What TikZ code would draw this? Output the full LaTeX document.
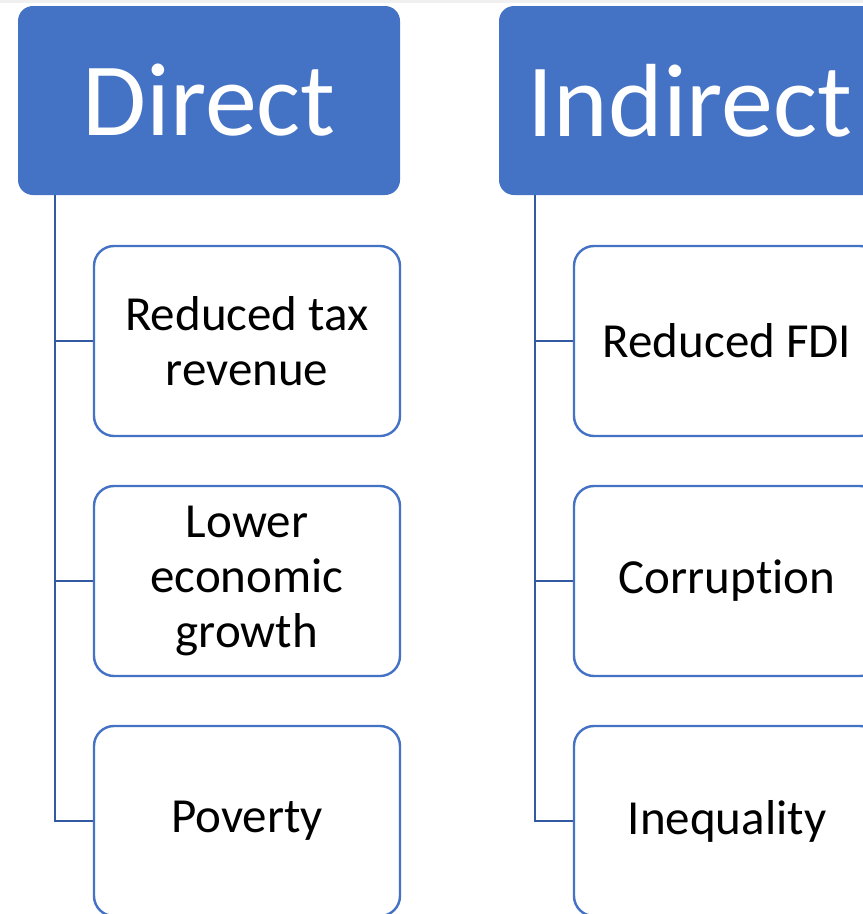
\documentclass[tikz,border=0pt]{standalone}
\usepackage{fontspec}
\setmainfont{Carlito}[Ligatures=NoCommon]
\definecolor{hdblue}{HTML}{4472C4}
\definecolor{lnblue}{HTML}{3459A3}
\definecolor{stripgray}{HTML}{F0F0F0}
\definecolor{paleblue}{HTML}{E8EFF8}
\tikzset{
	headbox/.style={rectangle,rounded corners=15pt,fill=hdblue,text=white,
		minimum width=382pt,minimum height=189pt,inner sep=0pt,
		font=\fontsize{104}{110}\selectfont},
	itembox/.style={rectangle,rounded corners=20pt,draw=hdblue,line width=2.4pt,
		fill=white,minimum width=306pt,minimum height=190pt,inner sep=0pt,
		align=center,font=\fontsize{49}{55}\selectfont},
	trunk/.style={draw=lnblue,line width=2.4pt}
}
\begin{document}
\begin{tikzpicture}[x=1pt,y=1pt]
	\useasboundingbox (0,0) rectangle (863,-914);
	%Background strips
	\fill[stripgray] (0,0) rectangle (863,-3);
	\fill[paleblue] (700,-914) -- (863,-905) -- (863,-914) -- cycle;
	%Direct column
	\node [headbox] (dirHead) at (209,-100.5) {Direct};
	\coordinate (dirTop) at (55,-195);
	\node [itembox] (dirA) at (247,-341) {Reduced tax\\revenue};
	\node [itembox] (dirB) at (247,-581) {Lower\\economic\\growth};
	\node [itembox] (dirC) at (247,-821) {Poverty};
	%Indirect column
	\node [headbox] (indHead) at (690,-100.5) {Indirect};
	\coordinate (indTop) at (535,-195);
	\node [itembox] (indA) at (727,-341) {Reduced FDI};
	\node [itembox] (indB) at (727,-581) {Corruption};
	\node [itembox] (indC) at (727,-821) {Inequality};
	%Connectors
	\draw [trunk] (dirTop) |- (dirC.west);
	\draw [trunk] (dirTop) |- (dirA.west);
	\draw [trunk] (dirTop) |- (dirB.west);
	\draw [trunk] (indTop) |- (indC.west);
	\draw [trunk] (indTop) |- (indA.west);
	\draw [trunk] (indTop) |- (indB.west);
\end{tikzpicture}
\end{document}
